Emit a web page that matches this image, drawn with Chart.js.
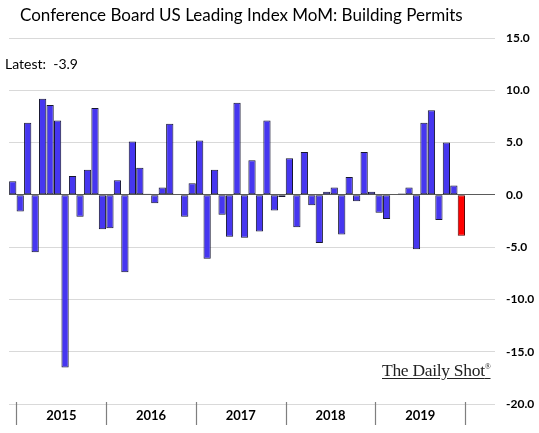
<!DOCTYPE html>
<html>
<head>
<meta charset="utf-8">
<script src="https://cdn.jsdelivr.net/npm/chart.js@4.4.1/dist/chart.umd.min.js"></script>
<style>
  html, body { margin: 0; padding: 0; background: #fff; }
  #wrap { position: relative; width: 539px; height: 433px; overflow: hidden; }
  canvas { position: absolute; left: 0; top: 0; }
  #title { position: absolute; left: 20px; top: 4px; font: 17px Lato, sans-serif; color: #000; white-space: nowrap; }
  #latest { position: absolute; left: 5px; top: 55px; font: 14px Lato, sans-serif; color: #000; white-space: pre; }
  #logo { position: absolute; left: 382px; top: 360px; font: 17.5px "Liberation Serif", serif; color: #222; white-space: nowrap; text-decoration: underline; text-underline-offset: 2px; letter-spacing: -0.3px; }
  #logo sup { font-size: 8px; vertical-align: 7px; text-decoration: none; }
</style>
</head>
<body>
<div id="wrap">
  <canvas id="c" width="539" height="433"></canvas>
  <div id="title">Conference Board US Leading Index MoM: Building Permits</div>
  <div id="latest">Latest:  -3.9</div>
  <div id="logo">The Daily Shot<sup>®</sup></div>
</div>
<script>
// Monthly categories (Dec 2014 .. Apr 2020; last slots empty)
const months = [
  '2014-12',
  '2015-01','2015-02','2015-03','2015-04','2015-05','2015-06','2015-07','2015-08','2015-09','2015-10','2015-11','2015-12',
  '2016-01','2016-02','2016-03','2016-04','2016-05','2016-06','2016-07','2016-08','2016-09','2016-10','2016-11','2016-12',
  '2017-01','2017-02','2017-03','2017-04','2017-05','2017-06','2017-07','2017-08','2017-09','2017-10','2017-11','2017-12',
  '2018-01','2018-02','2018-03','2018-04','2018-05','2018-06','2018-07','2018-08','2018-09','2018-10','2018-11','2018-12',
  '2019-01','2019-02','2019-03','2019-04','2019-05','2019-06','2019-07','2019-08','2019-09','2019-10','2019-11','2019-12',
  '2020-01','2020-02','2020-03','2020-04'
];
// MoM % change, building permits
const permitsMoM = [
  1.3,
  -1.6, 6.9, -5.5, 9.2, 8.6, 7.1, -16.5, 1.8, -2.1, 2.4, 8.3, -3.3,
  -3.2, 1.4, -7.4, 5.1, 2.6, 0.1, -0.8, 0.7, 6.8, 0.0, -2.1, 1.1,
  5.2, -6.1, 2.4, -1.9, -4.0, 8.8, -4.1, 3.3, -3.5, 7.1, -1.5, -0.2,
  3.5, -3.1, 4.1, -1.0, -4.6, 0.3, 0.7, -3.8, 1.7, -0.6, 4.1, 0.3,
  -1.7, -2.3, 0.05, 0.13, 0.7, -5.2, 6.9, 8.1, -2.4, 5.0, 0.9, -3.9
];
const yearLabels = ['2015','2016','2017','2018','2019'];
const yTicks = [-20, -15, -10, -5, 0, 5, 10, 15];

const BLUE = '#4636f0';
const RED = '#ff0000';

const yearAxisPlugin = {
  id: 'yearAxis',
  afterDraw(chart) {
    const ctx = chart.ctx;
    const xs = chart.scales.x;
    const area = chart.chartArea;
    const boundaries = [];
    for (let y = 0; y <= yearLabels.length; y++) {
      const i = y * 12; // index of December before each year
      const a = xs.getPixelForValue(i);
      const b = xs.getPixelForValue(i + 1);
      boundaries.push((a + b) / 2);
    }
    ctx.save();
    ctx.strokeStyle = '#7f7f7f';
    ctx.lineWidth = 1.2;
    boundaries.forEach(x => {
      ctx.beginPath();
      ctx.moveTo(Math.round(x) + 0.5, area.bottom - 2);
      ctx.lineTo(Math.round(x) + 0.5, area.bottom + 21);
      ctx.stroke();
    });
    ctx.fillStyle = '#000';
    ctx.font = 'bold 13px Lato, sans-serif';
    ctx.textAlign = 'center';
    ctx.textBaseline = 'middle';
    yearLabels.forEach((lab, k) => {
      ctx.fillText(lab, (boundaries[k] + boundaries[k + 1]) / 2, area.bottom + 12);
    });
    ctx.restore();
  }
};

new Chart(document.getElementById('c'), {
  type: 'bar',
  data: {
    labels: months,
    datasets: [{
      data: permitsMoM,
      backgroundColor: ctx => ctx.dataIndex === permitsMoM.length - 1 ? RED : BLUE,
      borderColor: ctx => ctx.dataIndex === permitsMoM.length - 1 ? '#5a0000' : '#161630',
      borderWidth: 1,
      borderSkipped: false,
      barPercentage: 0.97,
      categoryPercentage: 1.0
    }]
  },
  options: {
    responsive: false,
    animation: false,
    layout: { padding: { left: 9, top: 38, right: 0, bottom: 29 } },
    plugins: { legend: { display: false }, tooltip: { enabled: false }, title: { display: false } },
    scales: {
      x: {
        display: false,
        offset: true,
        grid: { display: false }
      },
      y: {
        position: 'right',
        min: -20,
        max: 15,
        afterBuildTicks: scale => { scale.ticks = yTicks.map(v => ({ value: v })); },
        afterFit: scale => { scale.width = 44; },
        border: { display: false },
        grid: {
          drawTicks: false,
          tickLength: 0,
          color: c => (c.tick && c.tick.value === 0) ? '#5a5a5a' : '#d9d9d9',
          lineWidth: 1
        },
        ticks: {
          padding: 11,
          color: '#000',
          font: { family: 'Lato, sans-serif', weight: 'bold', size: 12 },
          callback: v => Number(v).toFixed(1)
        }
      }
    }
  },
  plugins: [yearAxisPlugin]
});
</script>
</body>
</html>
